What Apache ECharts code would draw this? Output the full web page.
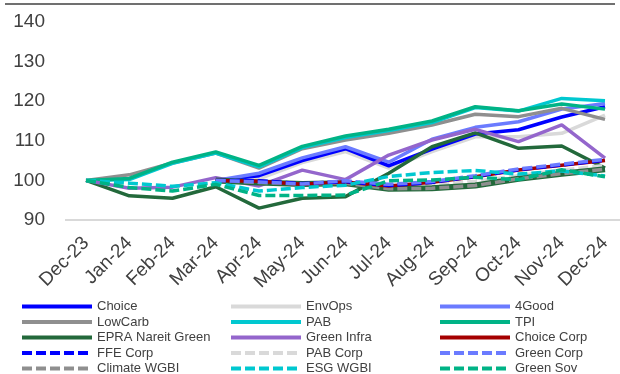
<!DOCTYPE html>
<html>
<head>
<meta charset="utf-8">
<script src="https://cdn.jsdelivr.net/npm/echarts@6/dist/echarts.min.js"></script>
<style>
  html, body { margin: 0; padding: 0; background: #fff; }
  #main { width: 620px; height: 374px; }
</style>
</head>
<body>
<div id="main"></div>
<script>
// index values, rebased to 100
var months = ['Dec-23','Jan-24','Feb-24','Mar-24','Apr-24','May-24','Jun-24','Jul-24','Aug-24','Sep-24','Oct-24','Nov-24','Dec-24'];
var yTicks = [90, 100, 110, 120, 130, 140];

var choice     = [null, null, null, 100, 101.2, 105.0, 108.0, 103.7, 107.9, 111.7, 112.8, 116.0, 118.6];
var envOps     = [null, null, null, 100, 100.4, 104.5, 107.3, 103.1, 107.3, 111.0, 111.0, 111.9, 116.5];
var fourGood   = [null, null, null, 100, 101.8, 105.7, 108.5, 104.6, 110.4, 113.4, 114.8, 118.0, 119.4];
var lowCarb    = [100, 101.4, 104.4, 106.9, 103.1, 108.0, 110.2, 111.9, 114.0, 116.7, 116.1, 118.2, 115.4];
var pab        = [100, 100.2, 104.3, 106.9, 103.4, 108.3, 110.8, 112.6, 114.6, 118.4, 117.5, 120.7, 120.1];
var tpi        = [100, 100.5, 104.6, 107.2, 103.8, 108.6, 111.2, 112.9, 115.0, 118.6, 117.6, 119.3, 118.0];
var epra       = [100, 96.1, 95.5, 98.4, 93.0, 95.5, 95.9, 101.8, 108.5, 112.0, 108.1, 108.7, 103.1];
var greenInfra = [100, 98.0, 98.3, 100.7, 98.6, 102.6, 100.2, 106.4, 110.2, 112.9, 109.8, 114.0, 105.6];
var choiceCorp = [null, null, null, 100, 99.8, 99.0, 99.6, 98.6, 99.5, 100.9, 102.6, 103.8, 105.0];
var ffeCorp    = [null, null, null, 100, 99.9, 99.2, 99.7, 98.7, 99.5, 101.0, 102.7, 103.9, 105.1];
var pabCorp    = [null, null, null, 100, 99.5, 98.8, 99.2, 98.2, 98.8, 99.8, 101.2, 102.6, 103.8];
var greenCorp  = [null, null, null, 100, 99.6, 99.1, 99.9, 99.0, 99.7, 101.2, 102.9, 104.1, 105.3];
var climate    = [null, null, null, 100, 99.5, 99.1, 99.3, 97.9, 98.0, 98.7, 100.4, 101.7, 102.8];
var esgWgbi    = [100, 99.3, 98.5, 99.4, 97.3, 98.2, 98.8, 101.0, 102.0, 102.5, 101.6, 102.4, 101.1];
var greenSov   = [100, 98.2, 97.3, 99.0, 96.2, 96.2, 96.3, 99.9, 100.1, 100.8, 100.2, 102.7, 100.9];

var legendCols = [
    ['Choice', 'LowCarb', 'EPRA Nareit Green', 'FFE Corp', 'Climate WGBI'],
    ['EnvOps', 'PAB', 'Green Infra', 'PAB Corp', 'ESG WGBI'],
    ['4Good', 'TPI', 'Choice Corp', 'Green Corp', 'Green Sov']
];

var FONT = '"Liberation Sans", Arial, sans-serif';
var DASH = [10, 4];

function line(name, data, color, dashed, width) {
    return {
        name: name,
        type: 'line',
        data: data,
        symbol: 'none',
        color: color,
        lineStyle: {
            color: color,
            width: width || 3.5,
            type: dashed ? DASH : 'solid'
        },
        emphasis: { disabled: true }
    };
}

(function() {
    var chart = echarts.init(document.getElementById('main'));
    var legendLeft = [20, 229, 438];
    var legends = legendCols.map(function(col, i) {
        return {
            data: col,
            orient: 'vertical',
            left: legendLeft[i],
            top: 299.5,
            height: 120,
            padding: 0,
            itemWidth: 70,
            itemHeight: 14,
            itemGap: 1.5,
            selectedMode: false,
            itemStyle: { opacity: 0 },
            lineStyle: { width: 4 },
            textStyle: { fontFamily: FONT, fontSize: 13, color: '#404040', lineHeight: 14 }
        };
    });

    var option = {
        animation: false,
        backgroundColor: '#fff',
        legend: legends,
        grid: { left: 86, right: 15, top: 22, bottom: 154, containLabel: false },
        xAxis: {
            type: 'category',
            data: months,
            boundaryGap: false,
            axisLine: { show: false },
            axisTick: { show: false },
            axisLabel: { rotate: 45, interval: 0, margin: 20, fontFamily: FONT, fontSize: 19, color: '#404040' }
        },
        yAxis: {
            type: 'value',
            min: yTicks[0],
            max: yTicks[yTicks.length - 1],
            interval: 10,
            splitLine: { show: false },
            axisLine: { show: false },
            axisTick: { show: false },
            axisLabel: { margin: 41, fontFamily: FONT, fontSize: 19, color: '#404040' }
        },
        graphic: [
            { type: 'line', shape: { x1: 5, y1: 4, x2: 615, y2: 4 }, style: { stroke: '#404040', lineWidth: 1.5 } },
            { type: 'line', shape: { x1: 65, y1: 220, x2: 620, y2: 220 }, style: { stroke: '#d9d9d9', lineWidth: 2 }, z: -1 }
        ],
        series: [
            line('EnvOps', envOps, '#d9d9d9'),
            line('Choice', choice, '#0000ff'),
            line('4Good', fourGood, '#6b7bff'),
            line('LowCarb', lowCarb, '#8f8f8f'),
            line('PAB', pab, '#00c8d0'),
            line('TPI', tpi, '#00b386'),
            line('EPRA Nareit Green', epra, '#23693b'),
            line('Green Infra', greenInfra, '#9466cc'),
            line('PAB Corp', pabCorp, '#d9d9d9', true),
            line('', climate, '#23693b', false, 6),
            line('Climate WGBI', climate, '#8f8f8f', true),
            line('Choice Corp', choiceCorp, '#a50000'),
            line('FFE Corp', ffeCorp, '#0000ff', true),
            line('Green Corp', greenCorp, '#6b7bff', true),
            line('ESG WGBI', esgWgbi, '#00c8d0', true),
            line('Green Sov', greenSov, '#00b386', true)
        ]
    };
    chart.setOption(option);
})();
</script>
</body>
</html>
